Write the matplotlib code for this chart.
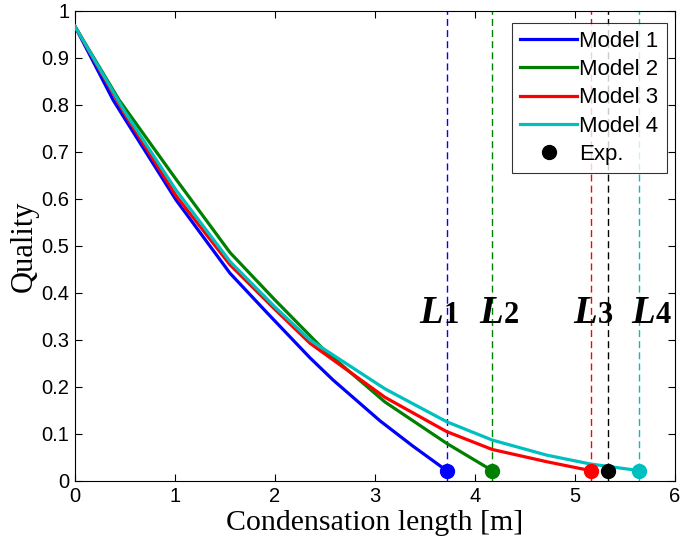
import matplotlib
matplotlib.use("Agg")
import matplotlib.pyplot as plt

# Data
x1 = [0, 0.38, 0.5, 1.01, 1.55, 1.92, 2.35, 2.58, 3.05, 3.38, 3.717]
y1 = [0.967, 0.811, 0.77, 0.598, 0.442, 0.358, 0.262, 0.215, 0.128, 0.074, 0.022]
x2 = [0, 0.44, 1.01, 1.55, 2.0, 2.48, 3.1, 3.717, 4.173]
y2 = [0.967, 0.811, 0.642, 0.486, 0.385, 0.281, 0.168, 0.080, 0.022]
x3 = [0, 0.5, 1.01, 1.55, 2.0, 2.35, 3.1, 3.717, 4.173, 4.717, 5.157]
y3 = [0.967, 0.78, 0.607, 0.46, 0.365, 0.293, 0.178, 0.105, 0.067, 0.041, 0.022]
x4 = [0, 0.5, 1.01, 1.55, 2.0, 2.35, 3.1, 3.717, 4.173, 4.717, 5.157, 5.643]
y4 = [0.967, 0.785, 0.619, 0.467, 0.37, 0.30, 0.196, 0.126, 0.087, 0.055, 0.036, 0.022]
exp_x = [5.333]
exp_y = [0.022]

labels = ["Model 1", "Model 2", "Model 3", "Model 4"]
colors = ["#0000ff", "#008000", "#ff0000", "#00bfbf"]
L_labels = ["1", "2", "3", "4"]
L_pos = [3.68, 4.28, 5.22, 5.80]

fig = plt.figure(figsize=(6.83, 5.48), dpi=100)
ax = fig.add_axes([0.1098, 0.1223, 0.8785, 0.8577])

series = [(x1, y1), (x2, y2), (x3, y3), (x4, y4)]
handles = []
for (xs, ys), c, lab in zip(series, colors, labels):
    ax.axvline(xs[-1], color=c, lw=1, ls=(0, (5, 3)), zorder=1)
    h, = ax.plot(xs, ys, color=c, lw=2.3, label=lab, zorder=3,
                 solid_joinstyle='round')
    ax.plot(xs[-1], ys[-1], 'o', color=c, ms=10, zorder=4)
    handles.append(h)
ax.axvline(exp_x[0], color='k', lw=1, ls=(0, (5, 3)), zorder=1)
he, = ax.plot(exp_x, exp_y, 'o', color='k', ms=10, ls='none', label='Exp.', zorder=5)
handles.append(he)

for xp, d in zip(L_pos, L_labels):
    ax.text(xp, 0.336, "L", ha='right', va='baseline', fontsize=28,
            family='Liberation Serif', weight='bold', style='italic')
    ax.text(xp + 0.005, 0.336, d, ha='left', va='baseline', fontsize=22,
            family='Liberation Serif', weight='bold')

ax.set_xlim(0, 6)
ax.set_ylim(0, 1)
ax.set_xticks([0, 1, 2, 3, 4, 5, 6])
ax.set_yticks([0, 0.1, 0.2, 0.3, 0.4, 0.5, 0.6, 0.7, 0.8, 0.9, 1])
ax.set_yticklabels(["0", "0.1", "0.2", "0.3", "0.4", "0.5", "0.6", "0.7", "0.8", "0.9", "1"])
ax.tick_params(direction='in', top=True, right=True, length=5, width=0.8,
               labelsize=14.5, pad=4)
for lab in ax.get_xticklabels() + ax.get_yticklabels():
    lab.set_family('Liberation Sans')
for s in ax.spines.values():
    s.set_linewidth(0.8)

ax.set_xlabel("Condensation length [m]", family='Liberation Serif', fontsize=21.5, labelpad=3)
ax.set_ylabel("Quality", family='Liberation Serif', fontsize=22, labelpad=2)

leg = ax.legend(handles=handles, loc='upper right', bbox_to_anchor=(0.986, 0.975),
                prop={'family': 'Liberation Sans', 'size': 16},
                frameon=True, fancybox=False, edgecolor='k', handlelength=2.57,
                borderaxespad=0, labelspacing=0.33, handletextpad=0.1, borderpad=0.36)
leg.get_frame().set_linewidth(0.8)

fig.savefig("out.png", dpi=100)
